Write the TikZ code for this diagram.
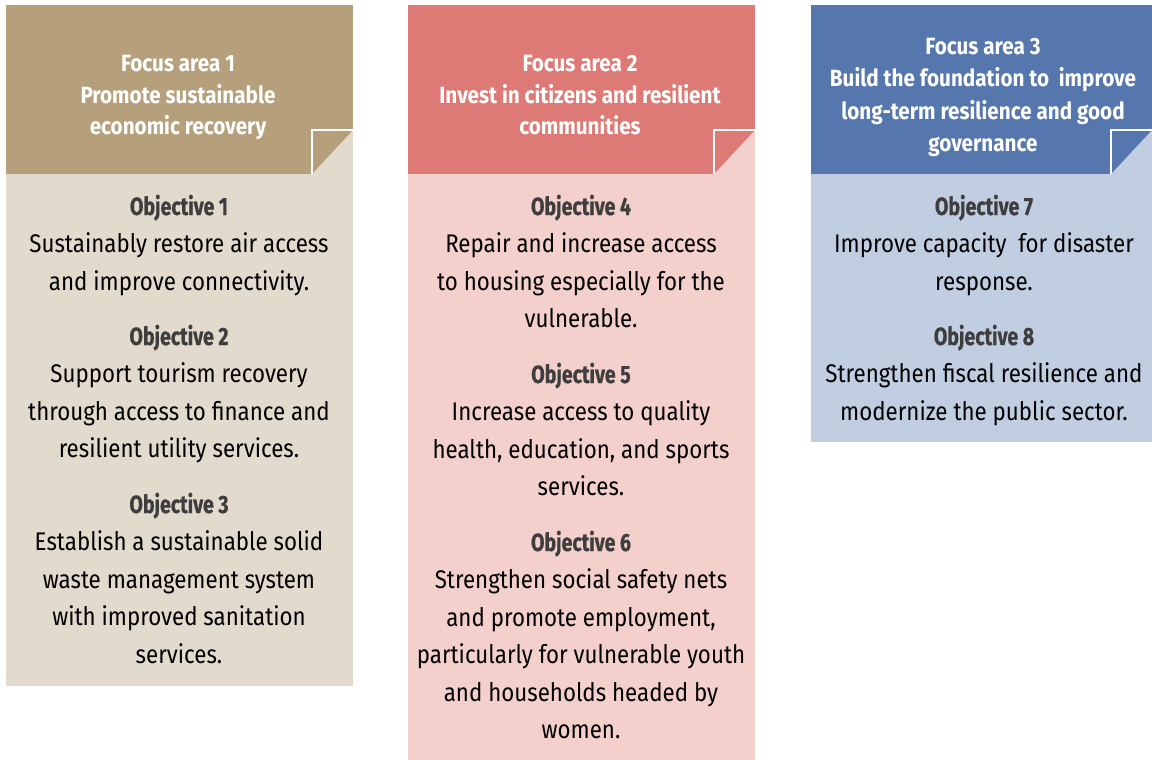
\documentclass[tikz,border=0pt]{standalone}
\usepackage{fontspec}
\newfontfamily\bodyfont[FakeStretch=0.875]{Fira Sans}
\newfontfamily\headfont[FakeStretch=0.88]{Fira Sans}
\newfontfamily\objfont[FakeStretch=0.78,FakeBold=0.6]{Fira Sans}
\definecolor{hA}{HTML}{B5A07B}
\definecolor{bA}{HTML}{E2DACC}
\definecolor{hB}{HTML}{DE7A75}
\definecolor{bB}{HTML}{F3D0CB}
\definecolor{hC}{HTML}{5577AE}
\definecolor{bC}{HTML}{C1CDE1}
\definecolor{objc}{HTML}{3E3E3E}
\tikzset{
  headtxt/.style={anchor=base, inner sep=0pt, text=white, font=\headfont\bfseries\fontsize{23.5}{27}\selectfont},
  objtxt/.style={anchor=base, inner sep=0pt, text=objc, font=\objfont\bfseries\fontsize{25}{29}\selectfont},
  bodytxt/.style={anchor=base, inner sep=0pt, text=black, font=\bodyfont\fontsize{25.5}{30}\selectfont},
  foldline/.style={draw=white, line width=2.2pt}
}
% #1 name prefix, #2 x, #3 first baseline, #4 step, #5 style, #6 lines
\newcommand\txtlines[6]{%
  \foreach \t [count=\i] in {#6} {
    \node[#5] (#1\i) at (#2, {#3 + (\i-1)*#4}) {\t};
  }%
}
% #1 name, #2 left, #3 right, #4 bottom, #5 head colour, #6 body colour
\newcommand\column[6]{%
  \fill[#6] (#2,174) rectangle (#3,#4);
  \fill[#5] (#2,5) rectangle (#3,174);
  \fill[#6] (#3-41,130) rectangle (#3,174);
  \fill[#5] (#3-41,130) -- (#3,130) -- (#3-41,174) -- cycle;
  \draw[foldline] (#3-41,174) -- (#3-41,130) -- (#3,130);
  \coordinate (#1) at (#2,5);
}
\begin{document}
\begin{tikzpicture}[x=1pt,y=-1pt]
\useasboundingbox (0,0) rectangle (1152,760);
\column{colA}{6}{353}{686}{hA}{bA}
\column{colB}{408}{755}{760}{hB}{bB}
\column{colC}{811}{1152}{442}{hC}{bC}

% headers
\txtlines{hA}{178}{71}{32}{headtxt}{Focus area 1,Promote sustainable,economic recovery}
\txtlines{hB}{580}{71}{32}{headtxt}{Focus area 2,Invest in citizens and resilient,communities}
\txtlines{hC}{983}{55}{32}{headtxt}{Focus area 3,Build the foundation to\ \ improve,long-term resilience and good,governance}

% column 1
\txtlines{oA}{179}{215}{37.5}{objtxt}{Objective 1}
\txtlines{tA}{179}{252.5}{37.5}{bodytxt}{Sustainably restore air access,and improve connectivity.}
\txtlines{oB}{179}{345}{37.5}{objtxt}{Objective 2}
\txtlines{tB}{179}{382.5}{37.5}{bodytxt}{Support tourism recovery,through access to finance and,resilient utility services.}
\txtlines{oC}{179}{513}{37.5}{objtxt}{Objective 3}
\txtlines{tC}{179}{550.5}{37.5}{bodytxt}{Establish a sustainable solid,waste management system,with improved sanitation,services.}

% column 2
\txtlines{oD}{581}{215}{37.5}{objtxt}{Objective 4}
\txtlines{tD}{581}{252.5}{37.5}{bodytxt}{Repair and increase access,to housing especially for the,vulnerable.}
\txtlines{oE}{581}{383}{37.5}{objtxt}{Objective 5}
\txtlines{tE}{581}{420.5}{37.5}{bodytxt}{Increase access to quality,{health, education, and sports},services.}
\txtlines{oF}{581}{551}{37.5}{objtxt}{Objective 6}
\txtlines{tF}{581}{588.5}{37.5}{bodytxt}{Strengthen social safety nets,{and promote employment,},particularly for vulnerable youth,and households headed by,women.}

% column 3
\txtlines{oG}{984}{215}{37.5}{objtxt}{Objective 7}
\txtlines{tG}{984}{252.5}{37.5}{bodytxt}{Improve capacity\ \ for disaster,response.}
\txtlines{oH}{984}{345}{37.5}{objtxt}{Objective 8}
\txtlines{tH}{984}{382.5}{37.5}{bodytxt}{Strengthen fiscal resilience and,modernize the public sector.}
\end{tikzpicture}
\end{document}
